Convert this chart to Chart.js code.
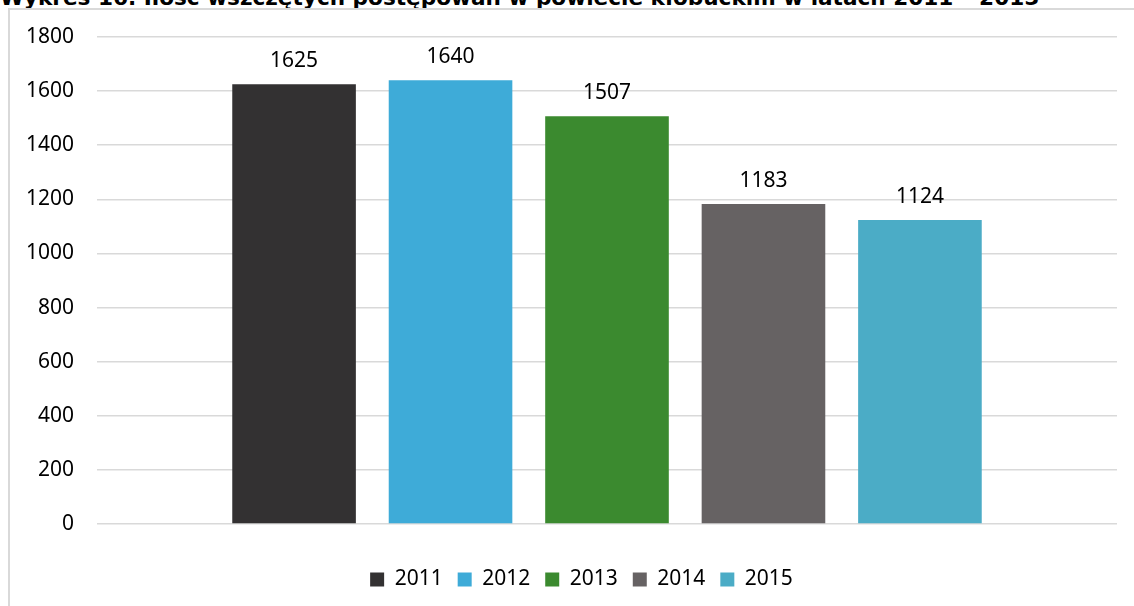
<!DOCTYPE html>
<html>
<head>
<meta charset="utf-8">
<script src="https://cdn.jsdelivr.net/npm/chart.js@4"></script>
<style>
  body { margin: 0; background: #fff; overflow: hidden; }
  #title {
    position: absolute; left: 0; top: -13px; white-space: nowrap;
    font: bold 21.6px "DejaVu Sans", Verdana, sans-serif; color: #000; line-height: 21.6px;
  }
  #frame {
    position: absolute; left: 8px; top: 8px; width: 1300px; height: 800px;
    border-left: 2px solid #d9d9d9; border-top: 2px solid #d9d9d9;
  }
  #wrap { position: absolute; left: 0; top: 0; width: 1134px; height: 606px; }
</style>
</head>
<body>
<div id="title">Wykres 16. Ilość wszczętych postępowań w powiecie kłobuckim w latach 2011 – 2015</div>
<div id="frame"></div>
<div id="wrap"><canvas id="chart"></canvas></div>
<script>
// lata i liczba wszczętych postępowań
var years = ['2011', '2012', '2013', '2014', '2015'];
var values = [1625, 1640, 1507, 1183, 1124];
var colors = ['#333132', '#3eabd8', '#3b8a2f', '#666263', '#4bacc6'];
var yTicks = [0, 200, 400, 600, 800, 1000, 1200, 1400, 1600, 1800];

var font = '"Noto Sans", "Open Sans", sans-serif';

var valueLabels = {
    id: 'valueLabels',
    afterDatasetsDraw: function(chart) {
        var ctx = chart.ctx;
        ctx.save();
        ctx.font = '21px ' + font;
        ctx.fillStyle = '#000';
        ctx.textAlign = 'center';
        ctx.textBaseline = 'middle';
        chart.data.datasets.forEach(function(ds, i) {
            var bar = chart.getDatasetMeta(i).data[0];
            ctx.fillText(ds.data[0], bar.x, bar.y - 23);
        });
        ctx.restore();
    }
};

// legenda w oryginale jest przesunięta nieco w prawo
var legendShift = {
    id: 'legendShift',
    afterLayout: function(chart) {
        if (chart.legend) {
            chart.legend.left += 23;
            chart.legend.right += 23;
        }
    }
};

var datasets = years.map(function(y, i) {
    return {
        label: y,
        data: [values[i]],
        backgroundColor: colors[i],
        borderColor: colors[i],
        borderWidth: 0,
        categoryPercentage: 0.767,
        barPercentage: 0.79
    };
});

var ctx = document.getElementById('chart').getContext('2d');
var myChart = new Chart(ctx, {
    type: 'bar',
    data: { labels: [''], datasets: datasets },
    options: {
        responsive: true,
        maintainAspectRatio: false,
        animation: false,
        layout: { padding: { left: 0, right: 17, top: 37, bottom: 6 } },
        scales: {
            x: {
                ticks: { display: false },
                grid: { display: false },
                border: { display: false },
                afterFit: function(axis) { axis.height = 30; }
            },
            y: {
                min: 0,
                max: 1800,
                afterBuildTicks: function(axis) {
                    axis.ticks = yTicks.map(function(v) { return { value: v }; });
                },
                afterFit: function(axis) { axis.width = 97; },
                ticks: {
                    padding: 23,
                    color: '#000',
                    font: { family: font, size: 21 },
                    callback: function(v) { return String(v); }
                },
                grid: { color: '#d9d9d9', lineWidth: 1.5, drawTicks: false },
                border: { display: false }
            }
        },
        plugins: {
            legend: {
                position: 'bottom',
                labels: {
                    boxWidth: 14,
                    boxHeight: 14,
                    padding: 15,
                    color: '#000',
                    font: { family: font, size: 21 }
                }
            },
            tooltip: { enabled: false }
        }
    },
    plugins: [valueLabels, legendShift]
});
</script>
</body>
</html>
